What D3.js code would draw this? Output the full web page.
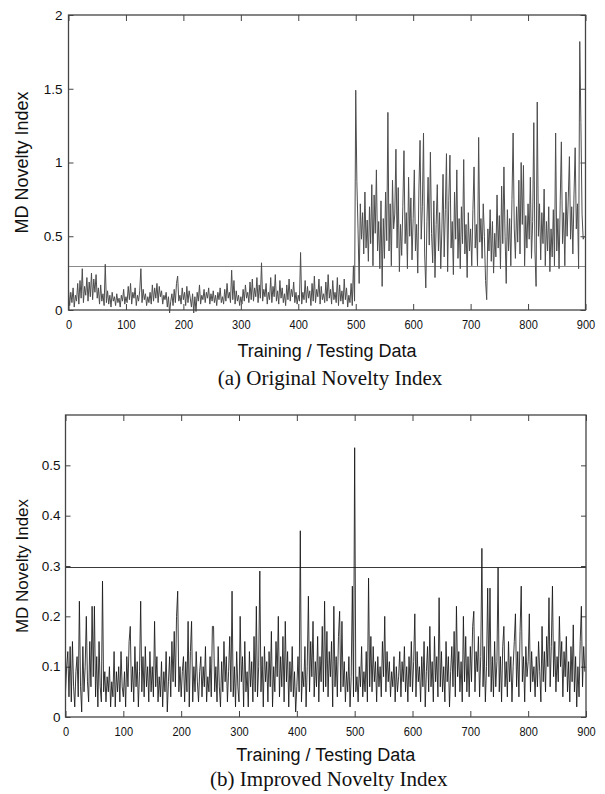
<!DOCTYPE html>
<html>
<head>
<meta charset="utf-8">
<script src="https://cdn.jsdelivr.net/npm/d3@7"></script>
<style>
  body { margin: 0; background: #fff; }
  svg { display: block; }
</style>
</head>
<body>
<svg id="chart" width="605" height="794"></svg>
<script>
// sample index step used for both series (values read every 2nd sample)
const STEP = 2;

// (a) original novelty index, samples 0..898 step 2
const originalIndex = [
  .14,.03,.12,.05,.15,.02,.10,.06,.18,.04,.20,.08,.28,.05,.16,.10,.22,.06,.19,.09,.25,.07,.21,.12,.24,
  .08,.15,.04,.17,.06,.11,.03,.31,.05,.13,.04,.10,.02,.12,.06,.09,.03,.11,.05,.08,.02,.10,.06,.14,.04,
  .09,.05,.16,.07,.18,.04,.12,.08,.15,.03,.10,.06,.13,.28,.05,.14,.07,.11,.03,.09,.05,.12,.04,.17,.06,
  .15,.08,.18,.05,.16,.09,.13,.04,.10,.07,.12,.02,.09,-.02,.06,.11,.03,.14,.05,.18,.23,.06,.10,.04,.15,
  .07,.12,.03,.16,.05,.13,.08,.02,.11,-.02,.09,-.01,.12,.06,.17,.04,.10,.07,.14,.05,.12,.08,.15,.04,.11,
  .06,.13,.05,.10,.03,.12,.07,.15,.05,.09,.04,.14,.06,.18,.08,.12,.05,.27,.07,.20,.04,.13,.06,.10,.03,
  .09,.04,.14,.06,.17,.08,.12,.05,.19,.07,.21,.06,.15,.09,.22,.05,.17,.08,.32,.06,.14,.09,.18,.04,.12,
  .07,.22,.05,.16,.09,.24,.06,.13,.04,.20,.08,.15,.05,.11,.03,.17,.07,.21,.06,.14,.09,.19,.05,.12,.04,
  .10,.06,.39,.04,.12,.07,.20,.05,.16,.08,.13,.03,.18,.06,.23,.05,.14,.09,.21,.04,.16,.07,.11,.05,.19,
  .06,.24,.08,.14,.04,.20,.07,.12,.05,.22,.03,.17,.06,.13,.04,.21,.07,.15,.02,.10,.05,.18,.03,.30,.06,
  1.49,.87,.55,.18,.72,.48,.66,.38,.80,.42,.61,.33,.70,.45,.85,.30,.78,.52,.95,.40,.60,.28,.74,.16,.62,
  .35,.80,.47,1.34,.40,.72,.30,.88,.55,.65,1.09,.42,.83,.26,.58,.37,.70,1.08,.45,.66,.28,.90,.50,.76,.34,
  .62,.95,.40,.58,.25,.82,1.15,.48,.70,1.20,.38,.15,.60,.90,.44,1.07,.52,.32,.74,.22,.58,.85,.40,.66,.28,
  .55,.92,.36,.68,1.06,.26,.74,1.05,.42,.60,.24,.80,.48,.95,.35,.62,.28,.70,.45,1.02,.38,.58,.22,.66,.40,
  .55,.30,.68,.97,.42,.58,.30,1.17,.46,.62,.35,.72,.50,.20,.07,.55,.40,.68,.33,.60,.25,.52,.36,.78,.42,
  .64,.28,.84,.45,.97,.50,.18,.68,.40,.62,.30,.75,1.20,.55,.35,.70,.46,.88,.38,1.00,.58,.98,.30,.64,.42,
  .72,.48,.90,.35,.60,1.27,.40,.16,1.41,.50,.72,.34,.66,.45,.82,.30,.60,.40,.70,.26,.55,.36,.68,.30,1.20,
  .40,.62,.28,.74,1.14,.45,.66,.30,.80,.50,.76,1.04,.48,.70,.38,.78,1.10,.55,.72,.28,1.82,1.27,.65,.48,.50
];

// (b) improved novelty index, samples 0..898 step 2
const improvedIndex = [
  .05,.10,.13,.04,.14,.03,.15,.06,.02,.09,.12,.04,.23,.06,.01,.14,.05,.10,.20,.07,.03,.15,.06,.22,.08,
  .22,.04,.12,.02,.15,.06,.03,.27,.05,.09,.03,.08,.05,.10,.02,.07,.04,.13,.02,.09,.05,.10,.03,.13,.06,
  .04,.09,.02,.12,.06,.15,.18,.05,.10,.03,.14,.06,.11,.02,.09,.23,.05,.12,.04,.14,.06,.10,.03,.13,.05,
  .10,.04,.19,.06,.12,.03,.08,.04,.11,.02,.09,.05,.13,.01,.07,.12,.04,.15,.07,.17,.06,.20,.25,.05,.10,
  .04,.09,.12,.03,.11,.05,.19,.02,.13,.19,.03,.10,.05,.13,.07,.03,.09,.12,.04,.10,.06,.14,.03,.08,.05,
  .12,.04,.18,.18,.05,.10,.03,.14,.06,.02,.11,.05,.15,.07,.12,.03,.09,.16,.05,.25,.04,.10,.02,.13,.06,
  .03,.20,.07,.12,.02,.15,.05,.09,.02,.13,.06,.11,.03,.16,.05,.22,.04,.10,.29,.05,.12,.02,.14,.07,.11,
  .03,.13,.06,.17,.02,.10,.05,.15,.08,.20,.04,.12,.06,.16,.03,.19,.07,.13,.02,.11,.05,.14,.04,.09,.01,
  .06,.12,.05,.37,.03,.09,.06,.14,.02,.10,.24,.05,.15,.08,.19,.04,.11,.06,.16,.03,.12,.07,.18,.05,.23,
  .06,.17,.04,.13,.08,.15,.02,.22,.06,.12,.04,.16,.21,.05,.19,.06,.11,.03,.09,.05,.12,.02,.08,.26,.04,
  .535,.05,.08,.03,.10,.06,.14,.04,.09,.05,.13,.03,.276,.06,.16,.05,.14,.07,.11,.03,.12,.06,.10,.04,.15,
  .08,.20,.05,.13,.07,.11,.04,.09,.06,.12,.03,.10,.05,.08,.13,.04,.11,.07,.14,.05,.10,.03,.12,.06,.15,
  .05,.11,.205,.04,.13,.07,.10,.03,.12,.06,.15,.02,.09,.14,.05,.18,.06,.11,.03,.16,.07,.12,.04,.237,.06,
  .13,.05,.10,.03,.15,.07,.12,.02,.09,.14,.06,.17,.04,.22,.08,.13,.05,.11,.03,.20,.07,.16,.05,.12,.04,
  .14,.07,.18,.21,.05,.13,.09,.16,.04,.12,.335,.06,.14,.03,.10,.256,.08,.256,.05,.12,.04,.15,.06,.11,.297,
  .05,.12,.03,.14,.18,.06,.11,.04,.15,.07,.12,.03,.10,.15,.205,.06,.13,.04,.17,.26,.07,.12,.03,.14,.08,
  .11,.205,.05,.13,.07,.10,.04,.12,.06,.15,.09,.03,.18,.07,.13,.05,.16,.10,.237,.06,.14,.26,.08,.15,.05,
  .12,.07,.20,.10,.15,.04,.13,.08,.16,.05,.11,.03,.14,.07,.183,.05,.12,.02,.10,.04,.15,.22,.06,.14,.09
];

const xTicks = [0, 100, 200, 300, 400, 500, 600, 700, 800, 900];
const yTicksA = [0, 0.5, 1, 1.5, 2];
const yTicksB = [0, 0.1, 0.2, 0.3, 0.4, 0.5];
const thresholdA = 0.295;
const thresholdB = 0.297;

const svg = d3.select('#chart');

const panels = [
  {
    values: originalIndex, yMax: 2, yTicks: yTicksA, threshold: thresholdA,
    left: 68.5, right: 585.5, top: 15, bottom: 310,
    lineColor: '#4d4d4d', lineWidth: 1, thrColor: '#8a8a8a',
    caption: '(a) Original Novelty Index', labelPad: 6,
    yTitleSize: 18, xTitleOff: 47, captionOff: 75
  },
  {
    values: improvedIndex, yMax: 0.6, yTicks: yTicksB, threshold: thresholdB,
    left: 65.5, right: 586, top: 415, bottom: 717,
    lineColor: '#161616', lineWidth: 0.85, thrColor: '#3a3a3a',
    caption: '(b) Improved Novelty Index', labelPad: 5,
    yTitleSize: 17, xTitleOff: 44, captionOff: 69
  }
];

// squeeze tick text a bit, the reference digits are narrow
function condense(sel, f) {
  sel.each(function () {
    const w = this.getComputedTextLength();
    d3.select(this).attr('textLength', w * f).attr('lengthAdjust', 'spacingAndGlyphs');
  });
}

panels.forEach(p => {
  const x = d3.scaleLinear().domain([0, 900]).range([p.left, p.right]);
  const y = d3.scaleLinear().domain([0, p.yMax]).range([p.bottom, p.top]);
  const g = svg.append('g');

  // inward ticks on all four sides
  const bottomAxis = g.append('g')
    .attr('transform', `translate(0,${p.bottom})`)
    .call(d3.axisBottom(x).tickValues(xTicks).tickSize(-6).tickSizeOuter(0).tickPadding(10));
  g.append('g')
    .attr('transform', `translate(0,${p.top})`)
    .call(d3.axisTop(x).tickValues(xTicks).tickSize(-6).tickSizeOuter(0).tickFormat(''));
  const leftAxis = g.append('g')
    .attr('transform', `translate(${p.left},0)`)
    .call(d3.axisLeft(y).tickValues(p.yTicks).tickSize(-5).tickSizeOuter(0)
      .tickPadding(p.labelPad).tickFormat(d3.format('')));
  g.append('g')
    .attr('transform', `translate(${p.right},0)`)
    .call(d3.axisRight(y).tickValues(p.yTicks).tickSize(-5).tickSizeOuter(0).tickFormat(''));

  g.selectAll('.domain').remove();
  g.selectAll('.tick line').attr('stroke', '#444').attr('stroke-width', 1);

  bottomAxis.selectAll('text')
    .attr('font-family', 'Liberation Sans, Arial, sans-serif')
    .attr('font-size', 13).attr('fill', '#111');
  condense(bottomAxis.selectAll('text'), 0.85);

  leftAxis.selectAll('text')
    .attr('font-family', 'Liberation Sans, Arial, sans-serif')
    .attr('font-size', 13.5).attr('fill', '#111');

  // threshold line
  g.append('line')
    .attr('x1', x(0)).attr('x2', x(900))
    .attr('y1', y(p.threshold)).attr('y2', y(p.threshold))
    .attr('stroke', p.thrColor).attr('stroke-width', 1.2);

  // novelty index trace
  const line = d3.line()
    .x((d, i) => x(i * STEP))
    .y(d => y(d));

  g.append('path')
    .datum(p.values)
    .attr('fill', 'none')
    .attr('stroke', p.lineColor)
    .attr('stroke-width', p.lineWidth)
    .attr('stroke-linejoin', 'miter')
    .attr('d', line);

  // frame
  g.append('rect')
    .attr('x', p.left).attr('y', p.top)
    .attr('width', p.right - p.left).attr('height', p.bottom - p.top)
    .attr('fill', 'none').attr('stroke', '#444').attr('stroke-width', 1.3);

  const cx = (p.left + p.right) / 2;

  g.append('text')
    .attr('transform', `translate(28,${(p.top + p.bottom) / 2}) rotate(-90)`)
    .attr('text-anchor', 'middle')
    .attr('font-family', 'Liberation Sans, Arial, sans-serif')
    .attr('font-size', p.yTitleSize)
    .attr('fill', '#111')
    .text('MD Novelty Index');

  g.append('text')
    .attr('x', cx).attr('y', p.bottom + p.xTitleOff)
    .attr('text-anchor', 'middle')
    .attr('font-family', 'Liberation Sans, Arial, sans-serif')
    .attr('font-size', 18).attr('fill', '#111')
    .text('Training / Testing Data');

  g.append('text')
    .attr('x', cx + 3).attr('y', p.bottom + p.captionOff)
    .attr('text-anchor', 'middle')
    .attr('font-family', 'Liberation Serif, Times New Roman, serif')
    .attr('font-size', 21).attr('fill', '#111')
    .text(p.caption);
});
</script>
</body>
</html>
